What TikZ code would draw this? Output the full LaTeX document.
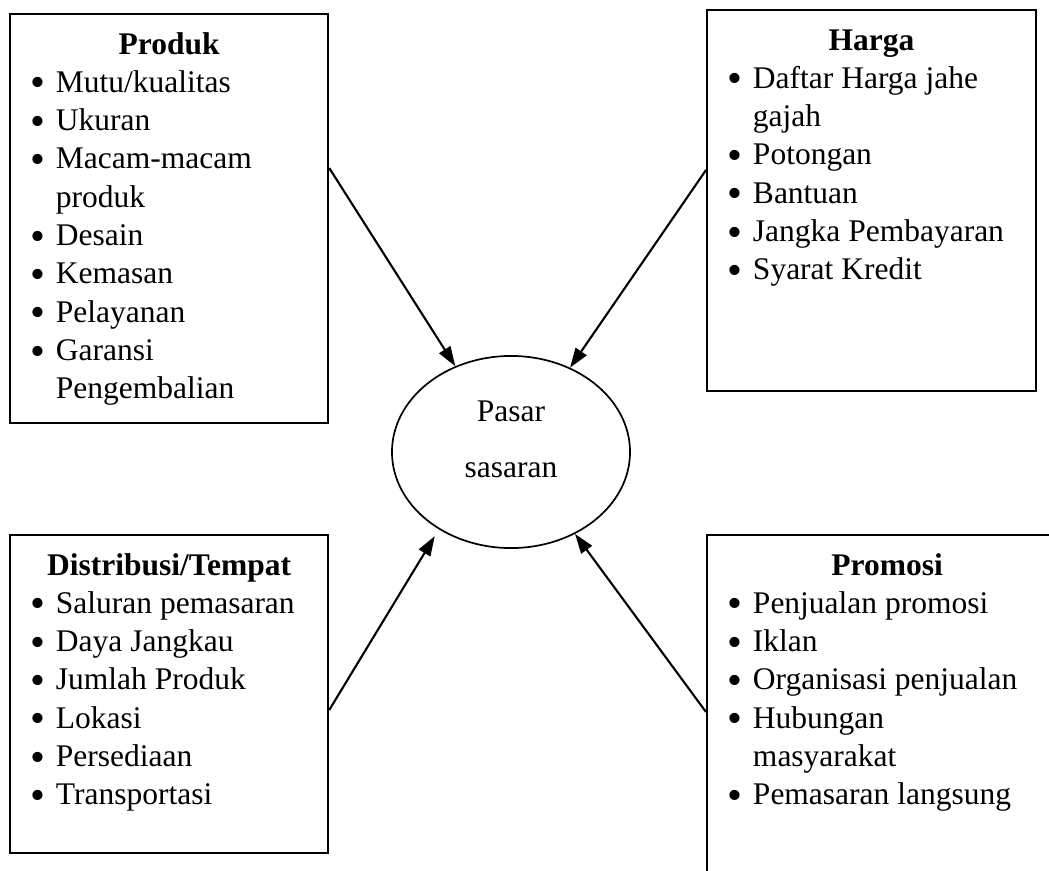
\documentclass[tikz,border=0pt]{standalone}
\usepackage{fontspec}
\setmainfont{Liberation Serif}
\usetikzlibrary{calc, arrows.meta, shapes.geometric}

% 列表项：圆点 + 悬挂缩进
\newcommand{\butir}[1]{\par\hangindent=17.5pt\hangafter=1\noindent\makebox[17.5pt][l]{\hspace{7.6pt}\raisebox{-1.7pt}{\scalebox{1.35}{\textbullet}}}#1}

\begin{document}
\begin{tikzpicture}[x=0.381pt, y=-0.381pt, font=\fontsize{12}{14.6}\selectfont,
  kotak/.style={draw, line width=0.8pt, inner sep=0pt, anchor=north west},
  panah/.style={-{Triangle[length=7.5pt, width=5pt]}, line width=0.8pt}]

% 画布
\clip (0,0) rectangle (1049,870);

% 中心：目标市场
\node[ellipse, draw, line width=0.65pt, minimum width=90.7pt, minimum height=73.2pt,
  align=center, text depth=10pt, font=\fontsize{12}{21.3}\selectfont] (pasar) at (511,452) {Pasar\\sasaran};

% 左上：产品
\node[kotak] (produk) at (9,13) {\begin{minipage}[c][155.8pt][t]{121.2pt}\vspace*{5pt}
{\centering\bfseries\strut Produk\par}
\butir{Mutu/kualitas}
\butir{Ukuran}
\butir{Macam-macam\\produk}
\butir{Desain}
\butir{Kemasan}
\butir{Pelayanan}
\butir{Garansi\\Pengembalian}
\end{minipage}};

% 右上：价格
\node[kotak] (harga) at (706,9) {\begin{minipage}[c][145.2pt][t]{125.3pt}\vspace*{5pt}
{\centering\bfseries\strut Harga\par}
\butir{Daftar Harga jahe\\gajah}
\butir{Potongan}
\butir{Bantuan}
\butir{Jangka Pembayaran}
\butir{Syarat Kredit}
\end{minipage}};

% 左下：分销
\node[kotak] (distribusi) at (9,534) {\begin{minipage}[c][121.2pt][t]{121.2pt}\vspace*{5pt}
{\centering\bfseries\strut Distribusi/Tempat\par}
\butir{Saluran pemasaran}
\butir{Daya Jangkau}
\butir{Jumlah Produk}
\butir{Lokasi}
\butir{Persediaan}
\butir{Transportasi}
\end{minipage}};

% 右下：促销（超出画面）
\node[kotak] (promosi) at (706,534) {\begin{minipage}[c][137.2pt][t]{137.2pt}\vspace*{5pt}
{\centering\bfseries\strut Promosi\par}
\butir{Penjualan promosi}
\butir{Iklan}
\butir{Organisasi penjualan}
\butir{Hubungan\\masyarakat}
\butir{Pemasaran langsung}
\end{minipage}};

% 箭头
\draw[panah] ($(produk.north east)+(0,155)$) -- (pasar.123);
\draw[panah] ($(harga.north west)+(0,161)$) -- (pasar.55);
\draw[panah, shorten >=3pt] ($(distribusi.north east)+(0,176)$) -- (pasar.227);
\draw[panah] ($(promosi.north west)+(0,178)$) -- (pasar.308);

\end{tikzpicture}
\end{document}
